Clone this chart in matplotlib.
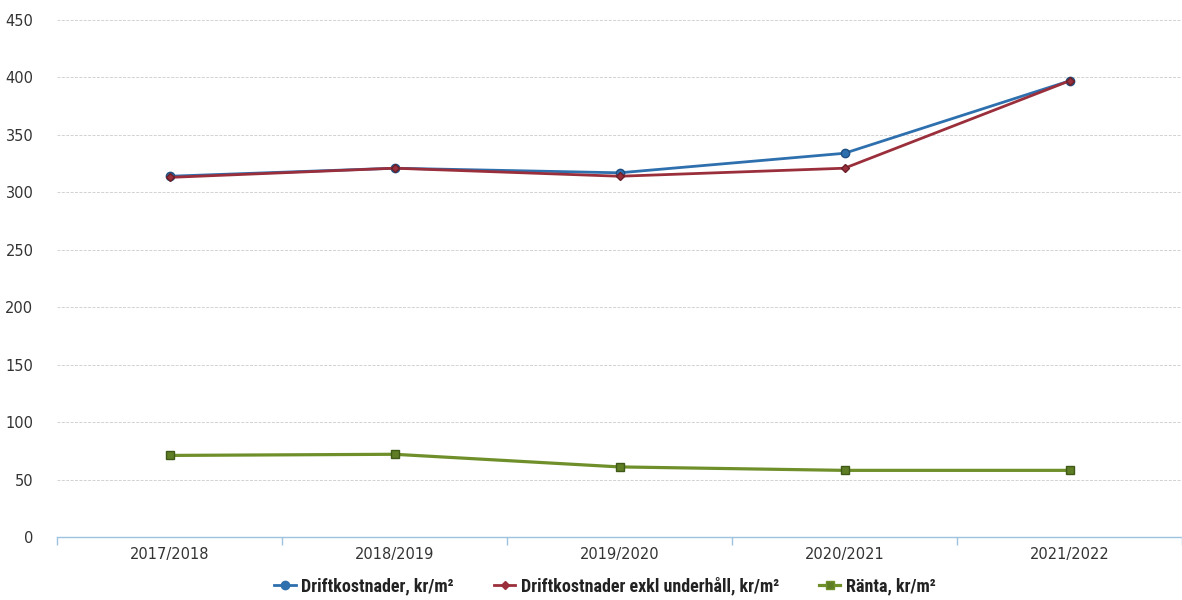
import matplotlib
matplotlib.use("Agg")
import matplotlib.pyplot as plt
from matplotlib.lines import Line2D

categories = ["2017/2018", "2018/2019", "2019/2020", "2020/2021", "2021/2022"]
drift = [314, 321, 317, 334, 397]
drift_exkl = [313, 321, 314, 321, 397]
ranta = [71, 72, 61, 58, 58]
yticks = [0, 50, 100, 150, 200, 250, 300, 350, 400, 450]

fig = plt.figure(figsize=(11.82, 6.0), dpi=100)
ax = fig.add_axes([57/1182, 63/600, 1 - 57/1182, (537-20)/600])

x = list(range(len(categories)))
blue = "#2e6fae"
red = "#9a2f3b"
green = "#6f8f2a"

ax.plot(x, drift, color=blue, lw=2.0, marker="o", ms=6, mfc=blue, mec="#1f4f80", zorder=3)
ax.plot(x, drift_exkl, color=red, lw=2.0, marker="D", ms=4, mfc=red, mec="#6a1f28", zorder=4)
ax.plot(x, ranta, color=green, lw=2.3, marker="s", ms=6, mfc="#5f7d24", mec="#3f5a18", zorder=3)

ax.set_xlim(-0.5, -0.5 + (1182-57)/228.3)
ax.set_ylim(0, 450)
ax.set_yticks(yticks)
ax.set_xticks(x)
ax.set_xticklabels(categories)
ax.set_xticks([i - 0.5 for i in range(len(categories)+1)], minor=True)

for s in ["top", "right", "left"]:
    ax.spines[s].set_visible(False)
ax.spines["bottom"].set_color("#9cc3e0")
ax.spines["bottom"].set_linestyle((0, (2, 1)))
ax.spines["bottom"].set_linewidth(1.0)

ax.yaxis.grid(True, color="#d2d2d2", lw=0.7, ls=(0, (3, 1.5)))
ax.set_axisbelow(True)
ax.tick_params(axis="y", length=0, pad=17, labelsize=10.5, labelcolor="#333333")
ax.tick_params(axis="x", which="major", length=0, pad=7, labelsize=10.5, labelcolor="#333333")
ax.tick_params(axis="x", which="minor", length=6, color="#9cc3e0", width=1, direction="out")
for lbl in ax.get_yticklabels() + ax.get_xticklabels():
    lbl.set_family(["Verdana", "DejaVu Sans"])

handles = [
    Line2D([], [], color=blue, lw=2.0, marker="o", ms=6),
    Line2D([], [], color=red, lw=2.0, marker="D", ms=4),
    Line2D([], [], color=green, lw=2.3, marker="s", ms=6, mfc="#5f7d24"),
]
labels = ["Driftkostnader, kr/m²", "Driftkostnader exkl underhåll, kr/m²", "Ränta, kr/m²"]
leg = fig.legend(handles, labels, loc="center", bbox_to_anchor=(605/1182, 1 - 586/600),
                 ncol=3, frameon=False, handlelength=1.2, handletextpad=0.3, columnspacing=2.2,
                 prop={"family": ["Roboto Condensed", "Roboto", "DejaVu Sans"], "weight": "bold", "size": 13})
for t in leg.get_texts():
    t.set_color("#222222")

fig.savefig("out.png", dpi=100, facecolor="white")
